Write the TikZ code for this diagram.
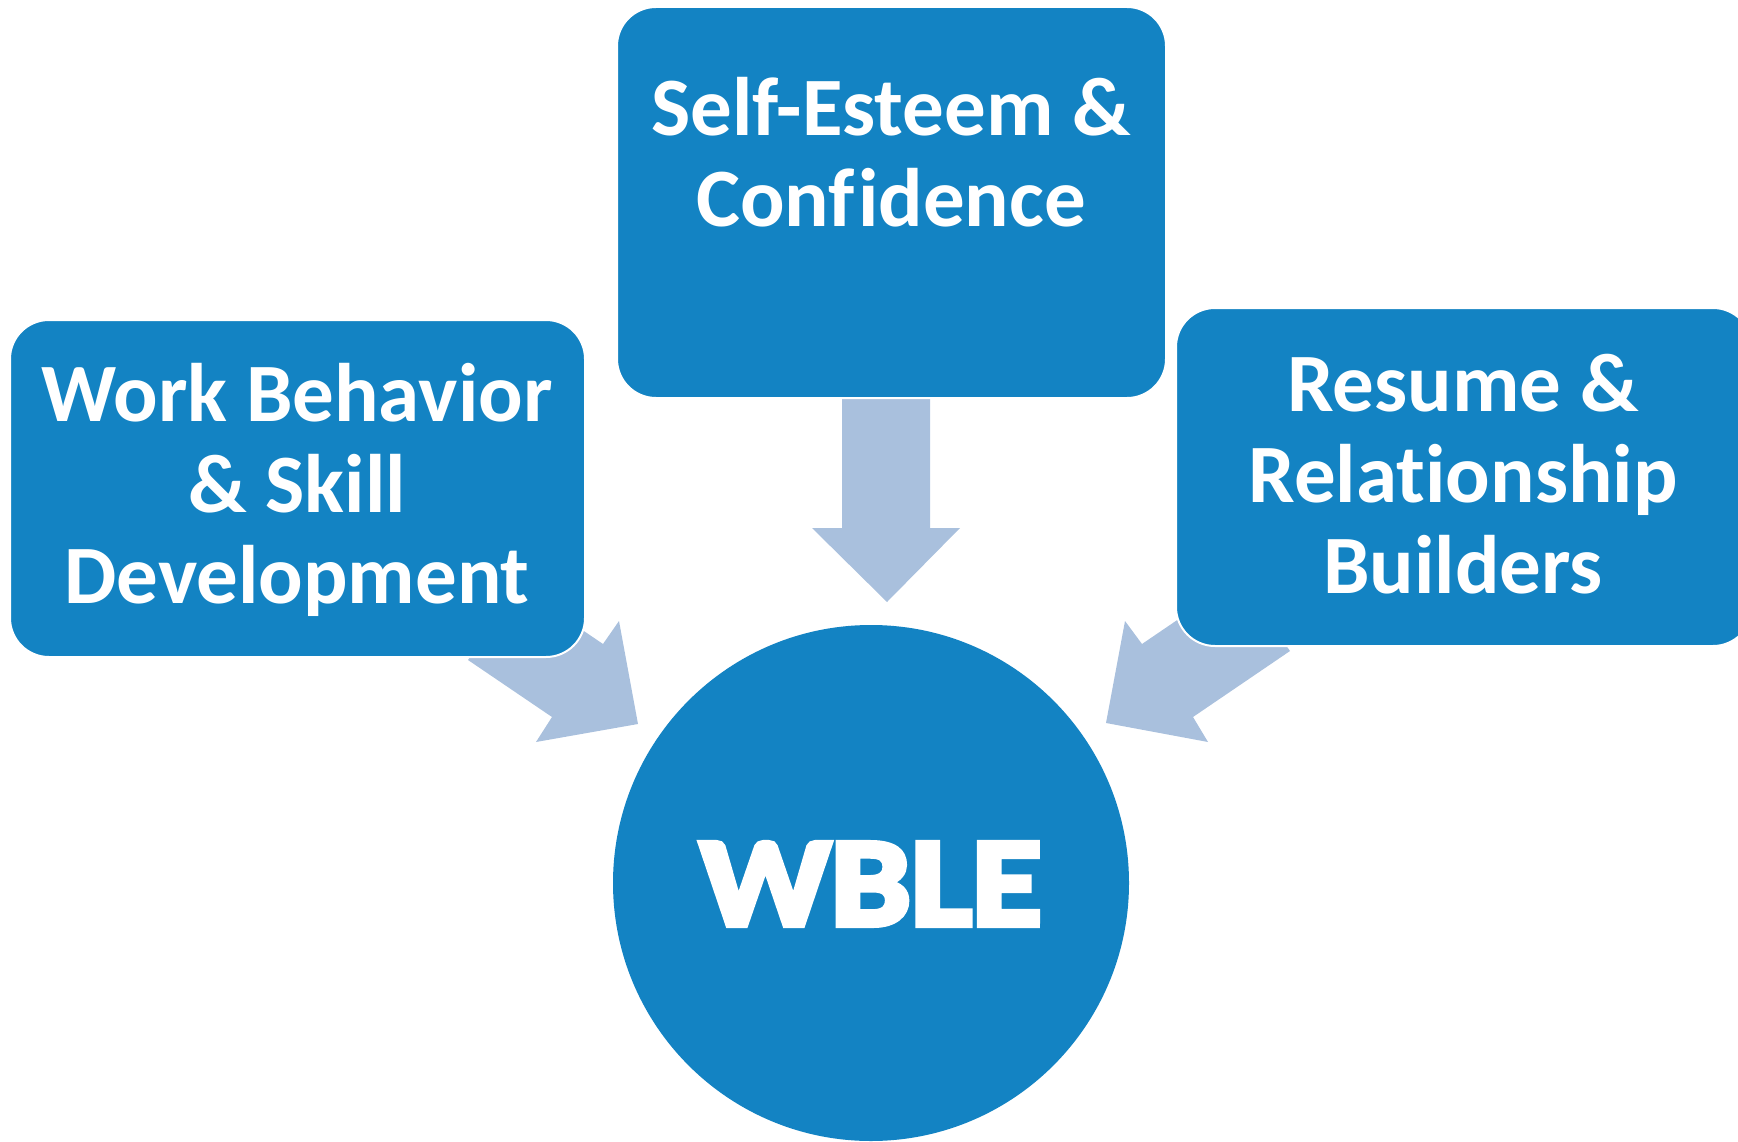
\documentclass[tikz,border=0pt]{standalone}
\usepackage{fontspec}
\setmainfont{Carlito}[Ligatures=NoCommon,RawFeature={-liga;-clig;-dlig}]
\newfontfamily\hubfont{Carlito}[Ligatures=NoCommon,
  BoldFeatures={FakeBold=5,FakeStretch=1.14}]
\definecolor{boxblue}{RGB}{19,131,195}
\definecolor{arrowblue}{RGB}{169,192,221}
\begin{document}
\begin{tikzpicture}[x=1pt,y=-1pt,
  panel/.style={draw=white,line width=2pt,fill=boxblue,rounded corners=39pt},
  paneltext/.style={text=white,font=\fontsize{83}{91}\selectfont\bfseries,
    align=center,inner sep=0pt},
  blockarrow/.style={fill=arrowblue,draw=none}]
\useasboundingbox (0,0) rectangle (1738,1142);

% block arrows pointing at the hub (drawn first, under the panels)
\fill[blockarrow] (842,395) -- (930,395) -- (930,528) -- (960,528)
  -- (887,602) -- (812,528) -- (842,528) -- cycle;
\fill[blockarrow] (468,660) -- (519,587) -- (603,644) -- (619,621)
  -- (638,724) -- (536,742) -- (552,717) -- cycle;
\fill[blockarrow] (1290,651) -- (1239,578) -- (1142,644) -- (1125,621)
  -- (1106,723) -- (1208,742) -- (1193,717) -- cycle;

% panels
\path[panel] (617,7) rectangle (1166,398);
\node[paneltext] (self) at (891,152) {Self-Esteem \&\\Conf\kern3pt idence};
\path[panel] (10,320) rectangle (585,657);
\node[paneltext] (work) at (297,490) {Work Behavior\\\& Skill\\Development};
\path[panel] (1176,308) rectangle (1752,646);
\node[paneltext] (resume) at (1463,474) {Resume \&\\Relationship\\Builders};

% hub
\node[circle,fill=boxblue,minimum size=516pt,inner sep=0pt] (hub) at (871,883) {};
\node[text=white,font=\hubfont\fontsize{126}{126}\selectfont\bfseries,inner sep=0pt]
  (hublabel) at (871,884) {WBLE};
\end{tikzpicture}
\end{document}
